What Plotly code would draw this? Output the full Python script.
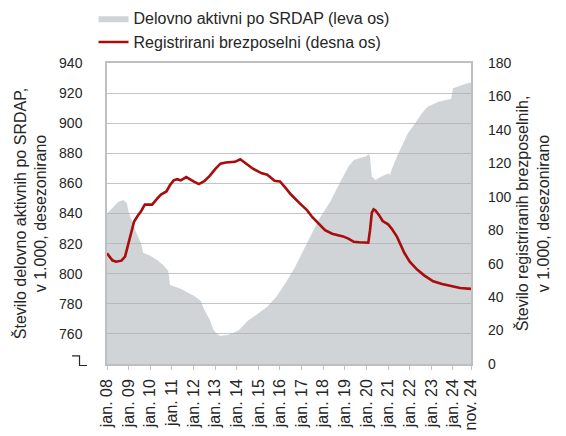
import plotly.graph_objects as go
import pandas as pd

# ---- data (month index: 0 = jan. 2008) ----
area_months = [0, 3, 6, 9, 11, 12, 14, 16, 19, 20, 24, 28, 31, 34, 35, 39, 41, 44, 48, 52,
               54, 57, 59, 61, 63, 67, 73, 78, 84, 89, 94, 99, 104, 107, 113, 118, 124, 129,
               134, 137, 142, 144, 145, 146, 147, 149, 152, 156, 157, 158, 161, 164, 167,
               171, 175, 178, 184, 190, 191, 192, 197, 200, 202]
area_values = [840, 844, 847.5, 849, 847, 841, 834, 828, 820, 814, 812, 809, 806, 802, 792.5,
               791, 790, 788, 785.5, 782, 776, 769.5, 763, 760, 758.8, 759.3, 762.3, 768.5,
               773.7, 778, 784.7, 793.6, 803.6, 811, 825, 836.8, 848, 860, 871, 875.5, 877.3,
               878, 879.5, 878, 864.5, 862.3, 864.5, 866.5, 865.6, 869, 878, 886, 893.3, 900,
               907, 911, 914.3, 915.9, 916.2, 923.2, 925.4, 926.5, 927]

unemp_months = [0, 3, 5, 8, 10, 12, 14, 15, 17, 19, 21, 25, 28, 30, 33, 35, 37, 39, 41, 44,
                48, 51, 54, 57, 60, 63, 66, 71, 74, 77, 81, 86, 89, 93, 96, 99, 102, 107, 111,
                114, 117, 121, 125, 131, 134, 137, 140, 145, 146, 147, 148, 149, 151, 153,
                156, 158, 161, 163, 165, 168, 172, 176, 181, 186, 191, 196, 202]
unemp_values = [66.2, 62, 61.2, 61.8, 64.2, 72.5, 80, 85, 88.5, 91.5, 95.3, 95.3, 99, 101.3,
                103.2, 107, 109.8, 110.5, 109.8, 111.8, 109.2, 107.6, 109.3, 112.5, 116.5,
                119.8, 120.5, 120.9, 122.4, 119.8, 116.8, 114, 113.2, 109.6, 109.2, 105.5,
                101.5, 96.1, 92, 87.8, 84.2, 80, 77.9, 76.3, 75, 73.1, 72.8, 72.5, 80, 90.5,
                92.5, 91.8, 89, 85.5, 83.5, 81, 76, 71, 66.5, 61.2, 56.6, 53, 49.5, 47.8, 46.5,
                45.4, 44.9]

tick_dates = [f"{y}-01-01" for y in range(2008, 2025)] + ["2024-11-01"]
tick_labels = [f"jan. {y % 100:02d}" for y in range(2008, 2025)] + ["nov. 24"]

left_ticks = list(range(740, 941, 20))
left_labels = [""] + [str(v) for v in range(760, 941, 20)]
right_ticks = list(range(0, 181, 20))

start = pd.Timestamp("2008-01-01")


def to_dates(ms):
    return [(start + pd.DateOffset(months=m)).strftime("%Y-%m-%d") for m in ms]


FONT = "Liberation Sans"
TXT = "#262626"

fig = go.Figure()
fig.add_trace(go.Scatter(
    x=to_dates(area_months), y=area_values, name="Delovno aktivni po SRDAP (leva os)",
    mode="lines", line=dict(width=0, color="rgba(170,176,182,0.55)"),
    fill="tozeroy", fillcolor="rgba(170,176,182,0.55)", yaxis="y"))
fig.add_trace(go.Scatter(
    x=to_dates(unemp_months), y=unemp_values, name="Registrirani brezposelni (desna os)",
    mode="lines", line=dict(width=2.6, color="#a80c0c"), yaxis="y2"))

fig.update_layout(
    width=558, height=428,
    margin=dict(l=99, r=95, t=55, b=72, autoexpand=False),
    paper_bgcolor="white", plot_bgcolor="white",
    font=dict(family=FONT, size=14, color=TXT),
    showlegend=True,
    legend=dict(x=-0.037, y=1.205, xanchor="left", yanchor="top",
                font=dict(size=16, color=TXT),
                bgcolor="rgba(0,0,0,0)", itemwidth=30, tracegroupgap=0),
    xaxis=dict(type="date", range=["2008-01-01", "2024-11-01"],
               tickvals=tick_dates, ticktext=tick_labels, tickangle=-90,
               ticks="outside", ticklen=4, tickcolor="#bfbfbf",
               showline=True, linecolor="#bfbfbf", linewidth=1.5, mirror=True,
               showgrid=False, tickfont=dict(size=16, color=TXT), automargin=False,
               ticklabelstandoff=3),
    yaxis=dict(range=[740, 940], tickvals=left_ticks, ticktext=left_labels,
               showgrid=True, gridcolor="#c4c4c4", gridwidth=1,
               showline=True, linecolor="#bfbfbf", linewidth=1.5, mirror=True,
               ticks="", ticklabelstandoff=20, tickfont=dict(size=14, color=TXT),
               automargin=False,
               title=dict(text="Število delovno aktivnih po SRDAP,<br>v 1.000, desezonirano",
                          font=dict(size=16, color=TXT), standoff=8)),
    yaxis2=dict(range=[0, 180], tickvals=right_ticks, overlaying="y", side="right",
                showgrid=False, ticks="", ticklabelstandoff=16, automargin=False,
                tickfont=dict(size=14, color=TXT),
                title=dict(text="Število registriranih brezposelnih,<br>v 1.000, desezonirano",
                           font=dict(size=16, color=TXT), standoff=6)),
)

# axis-break mark at the bottom of the left axis
fig.add_shape(type="path", xref="paper", yref="paper",
              path="M -0.096 0.027 L -0.0755 0.027 L -0.0755 -0.005 L -0.055 -0.005",
              line=dict(color="#262626", width=1.2))

fig.write_html("out.html")
